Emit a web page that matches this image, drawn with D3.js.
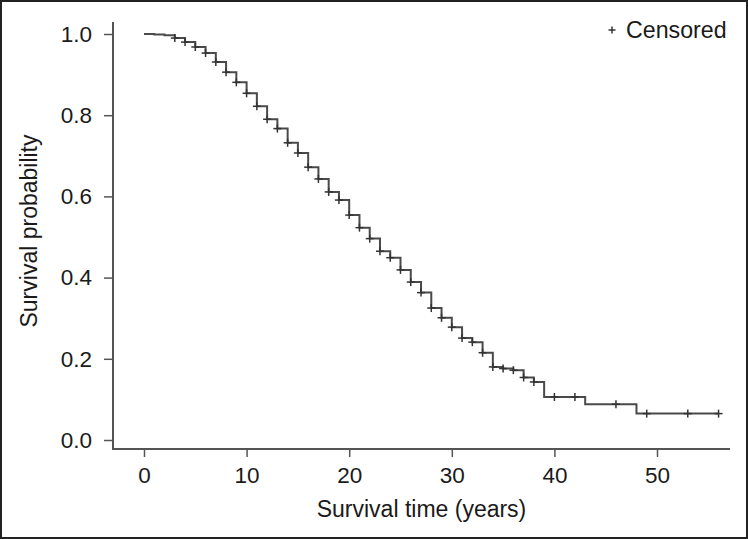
<!DOCTYPE html>
<html>
<head>
<meta charset="utf-8">
<script src="https://cdn.jsdelivr.net/npm/d3@7/dist/d3.min.js"></script>
<style>
  html, body { margin: 0; padding: 0; background: #fff; }
  svg { display: block; }
  text { font-family: "Liberation Sans", Arial, sans-serif; fill: #1a1a1a; }
</style>
</head>
<body>
<svg id="chart" width="748" height="539"></svg>
<script>
// ---- data ----
const stepTimes = [1,2,3,4,5,6,7,8,9,10,11,12,13,14,15,16,17,18,19,20,
                   21,22,23,24,25,26,27,28,29,30,31,32,33,34,35,36,37,38,39,43,48];
const stepSurv  = [0.999,0.997,0.990,0.980,0.968,0.953,0.931,0.906,0.881,0.854,
                   0.822,0.790,0.767,0.732,0.707,0.672,0.643,0.611,0.591,0.554,
                   0.523,0.496,0.465,0.449,0.419,0.389,0.363,0.325,0.301,0.278,
                   0.251,0.241,0.215,0.180,0.176,0.172,0.154,0.143,0.106,0.088,0.065];
const censorTimes = [3,4,5,6,7,8,9,10,11,12,13,14,15,16,17,18,19,20,21,22,23,24,
                     25,26,27,28,29,30,31,32,33,34,35,36,37,38,40,42,46,49,53,56];
const endTime = 56;
const xTicks = [0,10,20,30,40,50];
const yTicks = [0,0.2,0.4,0.6,0.8,1.0];
const xTitle = "Survival time (years)";
const yTitle = "Survival probability";
const legendLabel = "Censored";

// ---- layout ----
const svg = d3.select("#chart");
const x = d3.scaleLinear().domain([0, 50]).range([144, 657]);
const y = d3.scaleLinear().domain([0, 1]).range([440, 34]);
const plotLeft = 113, plotRight = 730, plotTop = 22, plotBottom = 449;

// outer frame
svg.append("rect").attr("x", 1).attr("y", 1).attr("width", 746).attr("height", 537)
  .attr("fill", "none").attr("stroke", "#222").attr("stroke-width", 2);

// survival step function
function survAt(t) {
  let s = 1;
  for (let i = 0; i < stepTimes.length; i++) if (stepTimes[i] <= t) s = stepSurv[i];
  return s;
}
const pts = [{t: 0, s: 1}];
stepTimes.forEach((t, i) => pts.push({t, s: stepSurv[i]}));
pts.push({t: endTime, s: stepSurv[stepSurv.length - 1]});

svg.append("path").datum(pts)
  .attr("fill", "none").attr("stroke", "#4a4a4a").attr("stroke-width", 2)
  .attr("d", d3.line().x(d => x(d.t)).y(d => y(d.s)).curve(d3.curveStepAfter));

// censor marks
const cs = 4;
const cg = svg.append("g").attr("stroke", "#333").attr("stroke-width", 1.5);
censorTimes.forEach(t => {
  const cx = x(t), cy = y(survAt(t));
  cg.append("line").attr("x1", cx - cs).attr("x2", cx + cs).attr("y1", cy).attr("y2", cy);
  cg.append("line").attr("x1", cx).attr("x2", cx).attr("y1", cy - cs).attr("y2", cy + cs);
});

// axis lines (L box)
const axisColor = "#555";
svg.append("path")
  .attr("d", `M${plotLeft},${plotTop}V${plotBottom}H${plotRight}`)
  .attr("fill", "none").attr("stroke", axisColor).attr("stroke-width", 2);

// y axis
const yAxis = svg.append("g").attr("transform", `translate(${plotLeft},0)`)
  .call(d3.axisLeft(y).tickValues(yTicks).tickFormat(d3.format(".1f")).tickSize(9).tickPadding(12));
yAxis.select(".domain").remove();
yAxis.selectAll(".tick line").attr("stroke", axisColor).attr("stroke-width", 1.5);
yAxis.selectAll(".tick text").attr("font-size", 22.5).attr("fill", "#1a1a1a")
  .style("font-family", '"Liberation Sans", Arial, sans-serif');

// x axis
const xAxis = svg.append("g").attr("transform", `translate(0,${plotBottom})`)
  .call(d3.axisBottom(x).tickValues(xTicks).tickFormat(d3.format("d")).tickSize(8).tickPadding(10));
xAxis.select(".domain").remove();
xAxis.selectAll(".tick line").attr("stroke", axisColor).attr("stroke-width", 1.5);
xAxis.selectAll(".tick text").attr("font-size", 22.5).attr("fill", "#1a1a1a")
  .style("font-family", '"Liberation Sans", Arial, sans-serif');

// titles
svg.append("text").attr("x", (plotLeft + plotRight) / 2).attr("y", 517)
  .attr("text-anchor", "middle").attr("font-size", 23).text(xTitle);
svg.append("text").attr("transform", "translate(37,231) rotate(-90)")
  .attr("text-anchor", "middle").attr("font-size", 23).text(yTitle);

// legend
const lx = 612, ly = 30, ls = 3.5;
svg.append("line").attr("x1", lx - ls).attr("x2", lx + ls).attr("y1", ly).attr("y2", ly)
  .attr("stroke", "#333").attr("stroke-width", 1.5);
svg.append("line").attr("x1", lx).attr("x2", lx).attr("y1", ly - ls).attr("y2", ly + ls)
  .attr("stroke", "#333").attr("stroke-width", 1.5);
svg.append("text").attr("x", 626).attr("y", 38).attr("font-size", 23.2).text(legendLabel);
</script>
</body>
</html>
